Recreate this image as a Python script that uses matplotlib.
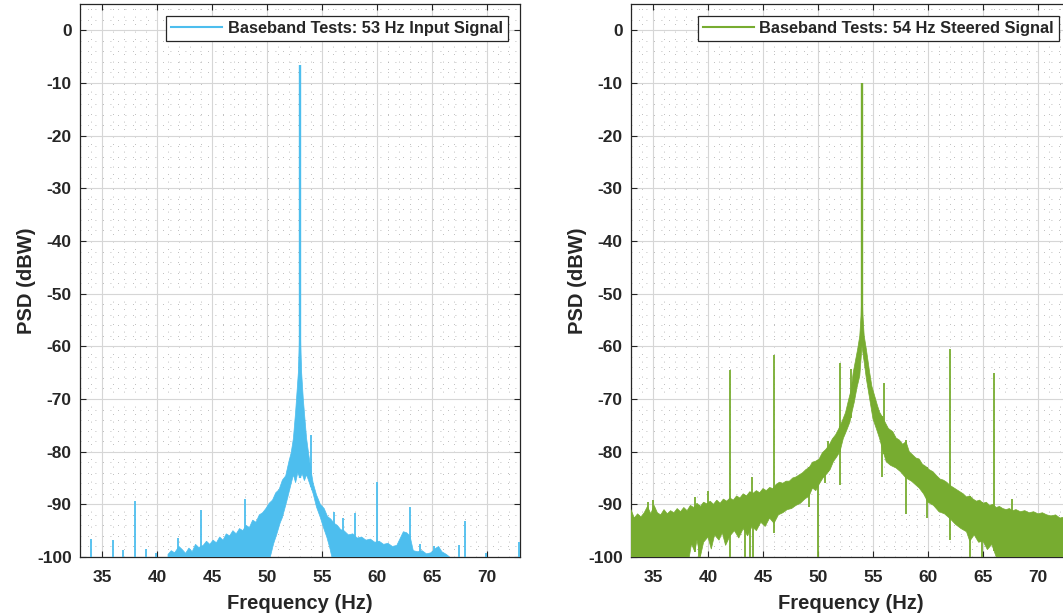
import numpy as np
import matplotlib
matplotlib.use('Agg')
import matplotlib.pyplot as plt
from matplotlib.lines import Line2D
from matplotlib.ticker import MultipleLocator

plt.rcParams['font.family'] = ['Liberation Sans', 'DejaVu Sans']
plt.rcParams['font.weight'] = 'bold'
plt.rcParams['axes.unicode_minus'] = False

# ---- left panel: 53 Hz input signal (dBW) ----
in_hi_f = [41.0, 41.3, 41.6, 42.0, 42.3, 42.6, 42.9, 43.2, 43.5, 43.8, 44.2, 44.5, 44.8,
           45.1, 45.4, 45.7, 46.0, 46.3, 46.6, 46.9, 47.2, 47.5, 47.8, 48.1, 48.4, 48.7,
           49.0, 49.3, 49.6, 49.9, 50.2, 50.5, 50.8, 51.1, 51.4, 51.7, 52.0, 52.2, 52.4,
           52.6, 52.75, 52.85, 52.93, 53.0, 53.07, 53.15, 53.3, 53.45, 53.6, 53.8, 54.0,
           54.2, 54.5, 54.85, 55.2, 55.5, 55.8, 56.1, 56.4, 56.7, 57.0, 57.4, 57.8, 58.2,
           58.6, 59.0, 59.4, 59.8, 60.2, 60.6, 61.0, 61.4, 61.8, 62.1, 62.4, 62.7, 63.0,
           63.3, 63.7, 64.1, 64.5, 64.9, 65.3, 65.6, 65.9, 66.3, 66.6]
in_hi_db = [-99.5, -98.8, -99.2, -98.0, -98.6, -99.3, -98.3, -99.0, -97.6, -98.2, -97.8,
            -97.0, -97.6, -96.8, -97.3, -96.2, -96.8, -95.6, -96.0, -95.0, -95.6, -94.6,
            -95.0, -94.0, -94.4, -93.0, -93.4, -92.0, -91.6, -90.8, -89.8, -89.2, -87.8,
            -87.2, -85.4, -84.6, -81.8, -80.2, -77.5, -72.5, -68.0, -65.0, -60.0, -52.0,
            -60.0, -65.0, -70.0, -73.8, -77.5, -80.6, -83.5, -86.0, -88.2, -90.0, -90.8,
            -92.3, -92.8, -93.6, -94.0, -94.8, -95.0, -95.8, -95.6, -96.4, -96.2, -96.8,
            -96.6, -97.2, -97.0, -97.6, -97.4, -98.0, -97.8, -96.5, -95.2, -95.4, -96.0,
            -98.8, -99.0, -98.8, -99.4, -99.2, -98.4, -98.0, -99.0, -99.5, -100.0]
in_lo_f = [41.0, 50.3, 50.6, 50.9, 51.2, 51.4, 51.8, 52.1, 52.4, 52.6, 52.8, 53.0, 53.2,
           53.4, 53.6, 53.9, 54.2, 54.5, 54.85, 55.15, 55.45, 55.7, 55.9, 66.6]
in_lo_db = [-100.0, -100.0, -97.5, -95.6, -93.5, -92.5, -89.4, -86.9, -84.4, -85.9, -84.0,
            -85.0, -84.2, -85.5, -84.4, -86.2, -88.0, -90.5, -92.5, -94.5, -96.3, -98.2,
            -100.0, -100.0]
in_spike_f = [34.0, 36.0, 36.9, 38.0, 39.0, 39.9, 41.9, 44.0, 48.0, 54.0, 56.1, 56.9,
              58.0, 60.0, 63.0, 63.9, 65.2, 67.5, 68.0, 69.9, 72.9]
in_spike_db = [-96.5, -96.7, -98.7, -89.3, -98.4, -99.3, -96.4, -91.1, -89.0, -76.8, -91.4,
               -92.5, -91.7, -85.7, -90.5, -97.6, -97.9, -97.8, -93.1, -99.2, -97.1]
in_peak_f = 53.0
in_peak_db = -6.5

# ---- right panel: 54 Hz steered signal ----
st_hi_f = [33.0, 33.3, 33.6, 33.9, 34.2, 34.5, 34.8, 35.1, 35.4, 35.7, 36.0, 36.3, 36.6,
           36.9, 37.2, 37.5, 37.8, 38.1, 38.4, 38.7, 39.0, 39.3, 39.6, 39.9, 40.2, 40.5,
           40.8, 41.1, 41.4, 41.7, 42.0, 42.3, 42.6, 42.9, 43.2, 43.5, 43.8, 44.1, 44.4,
           44.7, 45.0, 45.3, 45.6, 45.9, 46.2, 46.5, 46.8, 47.1, 47.4, 47.7, 48.0, 48.3,
           48.6, 48.9, 49.2, 49.5, 49.8, 50.1, 50.4, 50.7, 51.0, 51.3, 51.6, 51.9, 52.2,
           52.5, 52.8, 53.0, 53.2, 53.4, 53.6, 53.8, 53.92, 54.0, 54.08, 54.2, 54.4, 54.7,
           54.9, 55.15, 55.4, 55.6, 55.85, 56.1, 56.4, 56.8, 57.1, 57.4, 57.7, 58.0, 58.3,
           58.6, 58.9, 59.2, 59.5, 59.8, 60.1, 60.45, 60.8, 61.1, 61.4, 61.7, 62.0, 62.3,
           62.6, 62.9, 63.2, 63.5, 63.8, 64.1, 64.4, 64.7, 65.0, 65.3, 65.6, 65.9, 66.2,
           66.5, 66.8, 67.1, 67.4, 67.7, 68.0, 68.4, 68.8, 69.2, 69.6, 70.0, 70.4, 70.8,
           71.2, 71.6, 72.0, 72.4, 72.8, 73.0]
st_hi_db = [-91.0, -92.6, -91.8, -92.4, -91.6, -90.4, -91.8, -90.2, -91.6, -92.0, -91.0,
            -91.8, -91.2, -91.6, -90.8, -91.4, -90.6, -91.2, -90.2, -90.6, -89.8, -90.4,
            -89.6, -89.9, -89.4, -90.0, -89.2, -89.8, -89.0, -89.4, -88.8, -89.2, -88.4,
            -88.8, -88.0, -88.4, -87.6, -87.9, -87.4, -87.8, -87.0, -87.4, -86.8, -87.0,
            -86.2, -85.8, -86.0, -85.6, -85.6, -85.0, -84.8, -84.4, -84.0, -83.4, -83.0,
            -82.0, -81.8, -81.4, -80.2, -79.6, -78.8, -77.6, -76.8, -75.6, -74.2, -72.6,
            -70.0, -68.4, -65.0, -62.8, -60.6, -58.0, -54.0, -48.0, -54.0, -58.0, -60.6,
            -65.0, -67.6, -69.4, -71.2, -72.5, -73.4, -74.4, -75.6, -76.2, -77.4, -77.8,
            -78.6, -78.1, -80.0, -80.6, -81.2, -81.4, -82.4, -82.8, -83.4, -83.8, -84.6,
            -85.2, -85.4, -85.8, -86.4, -86.8, -87.2, -87.6, -88.0, -88.6, -88.4, -89.0,
            -89.4, -89.2, -89.8, -89.6, -90.2, -90.0, -90.6, -90.4, -90.8, -91.0, -90.8,
            -91.2, -91.0, -91.4, -91.2, -91.6, -91.4, -91.8, -91.6, -92.0, -92.2, -92.0,
            -92.6, -92.4, -92.8, -93.0]
st_lo_f = [33.0, 38.3, 38.5, 38.8, 39.0, 39.3, 39.6, 40.0, 40.3, 40.6, 41.0, 41.3, 41.6,
           42.0, 42.4, 42.8, 43.2, 43.6, 44.0, 44.4, 44.8, 45.2, 45.6, 46.0, 46.4, 46.8,
           47.2, 47.6, 48.0, 48.4, 48.8, 49.2, 49.5, 49.8, 50.1, 50.45, 50.8, 51.1, 51.4,
           51.7, 52.0, 52.3, 52.6, 52.9, 53.1, 53.3, 53.55, 53.8, 54.0, 54.2, 54.4, 54.7,
           55.0, 55.3, 55.6, 55.9, 56.2, 56.6, 57.1, 57.5, 58.0, 58.5, 59.2, 59.6, 60.0,
           60.5, 61.0, 61.5, 62.0, 62.5, 63.0, 63.5, 63.8, 64.2, 64.6, 65.0, 65.4, 65.8,
           66.2, 73.0]
st_lo_db = [-100.0, -100.0, -97.5, -99.0, -96.8, -100.0, -97.2, -96.2, -98.5, -95.8, -96.8,
            -95.4, -97.8, -96.0, -95.0, -96.4, -94.6, -96.0, -94.2, -95.0, -93.4, -94.2,
            -92.6, -93.6, -92.0, -91.6, -91.0, -90.8, -90.2, -89.8, -89.0, -88.4, -86.9,
            -87.4, -86.2, -85.0, -84.2, -83.4, -81.9, -81.0, -80.0, -77.5, -76.0, -74.4,
            -72.4, -70.6, -67.8, -65.6, -60.0, -63.0, -66.2, -70.0, -73.8, -75.6, -77.5,
            -79.8, -81.9, -82.6, -83.1, -83.8, -85.0, -85.6, -86.9, -88.0, -89.6, -90.2,
            -91.4, -91.8, -92.7, -93.8, -94.6, -95.2, -97.0, -95.8, -97.2, -97.0, -98.6,
            -97.6, -100.0, -100.0]
st_spike_f = [34.5, 35.0, 38.8, 40.0, 42.0, 44.0, 46.0, 50.9, 52.0, 52.97, 56.0, 58.0,
              62.0, 66.0, 67.6]
st_spike_db = [-89.6, -89.2, -88.6, -87.5, -64.4, -84.8, -61.6, -77.9, -63.1, -64.3, -67.0,
               -77.8, -60.6, -65.0, -89.0]
st_dip_f = [39.2, 42.0, 43.4, 43.8, 44.1, 46.0, 49.2, 50.0, 50.6, 52.0, 55.8, 58.0, 59.9,
            62.0, 63.8, 64.9]
st_dip_db = [-100.0, -100.0, -100.0, -100.0, -100.0, -95.5, -90.5, -100.0, -85.9, -86.3,
             -84.8, -91.8, -92.6, -96.8, -100.0, -100.0]
st_peak_f = 54.0
st_peak_db = -10.0

BLUE = '#4DBEEE'
GREEN = '#77AC30'
AXC = '#262626'


def draw_psd(ax, c, hi_f, hi_db, lo_f, lo_db, spk_f, spk_db, pk_f, pk_db,
             dip_f=None, dip_db=None):
    xs = np.r_[hi_f, lo_f[::-1]]
    ys = np.r_[hi_db, lo_db[::-1]]
    ax.fill(xs, ys, color=c, lw=0.5, zorder=3)
    # spikes rise from the bottom of the band (or from the axis floor)
    base = np.maximum(-100, np.interp(spk_f, lo_f, lo_db))
    ax.vlines(spk_f, base, spk_db, colors=c, lw=1.3, zorder=3)
    ax.vlines([pk_f], np.interp([pk_f], lo_f, lo_db), [pk_db], colors=c, lw=1.7, zorder=3)
    if dip_f is not None:
        tops = np.interp(dip_f, hi_f, hi_db)
        ax.vlines(dip_f, dip_db, tops, colors=c, lw=1.3, zorder=3)


def style(ax, c, label):
    ax.set_xlim(33, 73)
    ax.set_ylim(-100, 5)
    ax.set_xticks(np.arange(35, 71, 5))
    ax.set_yticks(np.arange(-100, 1, 10))
    ax.xaxis.set_minor_locator(MultipleLocator(1))
    ax.yaxis.set_minor_locator(MultipleLocator(2))
    ax.grid(which='major', color='#d6d6d6', lw=0.8, zorder=0)
    ax.grid(which='minor', color='#a8a8a8', lw=0.6, ls=(0, (1, 8)), zorder=0)
    ax.set_axisbelow(True)
    ax.tick_params(which='major', direction='in', top=True, right=True, length=4.5,
                   width=0.8, color=AXC, labelcolor=AXC, labelsize=12.5)
    ax.tick_params(axis='x', pad=9)
    ax.tick_params(axis='y', pad=6)
    ax.tick_params(which='minor', length=0)
    for s in ax.spines.values():
        s.set_color(AXC)
        s.set_linewidth(0.9)
    ax.set_xlabel('Frequency (Hz)', fontsize=14.5, fontweight='bold', color=AXC, labelpad=7)
    ax.set_ylabel('PSD (dBW)', fontsize=14.5, fontweight='bold', color=AXC, labelpad=1)
    h = Line2D([], [], color=c, lw=1.5)
    leg = ax.legend([h], [label], loc='upper right', fontsize=11.8, handlelength=3.1,
                    borderaxespad=0.72, fancybox=False, framealpha=1, borderpad=0.32,
                    handletextpad=0.35)
    leg.get_frame().set_edgecolor(AXC)
    leg.get_frame().set_linewidth(0.9)
    for t in leg.get_texts():
        t.set_fontweight('bold')
        t.set_color(AXC)


fig = plt.figure(figsize=(10.63, 6.15), dpi=100)
ax1 = fig.add_axes([80 / 1063, 58 / 615, 440 / 1063, 553 / 615])
ax2 = fig.add_axes([631 / 1063, 58 / 615, 440 / 1063, 553 / 615])

draw_psd(ax1, BLUE, in_hi_f, in_hi_db, in_lo_f, in_lo_db, in_spike_f, in_spike_db,
         in_peak_f, in_peak_db)
style(ax1, BLUE, 'Baseband Tests: 53 Hz Input Signal')

draw_psd(ax2, GREEN, st_hi_f, st_hi_db, st_lo_f, st_lo_db, st_spike_f, st_spike_db,
         st_peak_f, st_peak_db, st_dip_f, st_dip_db)
style(ax2, GREEN, 'Baseband Tests: 54 Hz Steered Signal')

fig.savefig('out.png', dpi=100)
